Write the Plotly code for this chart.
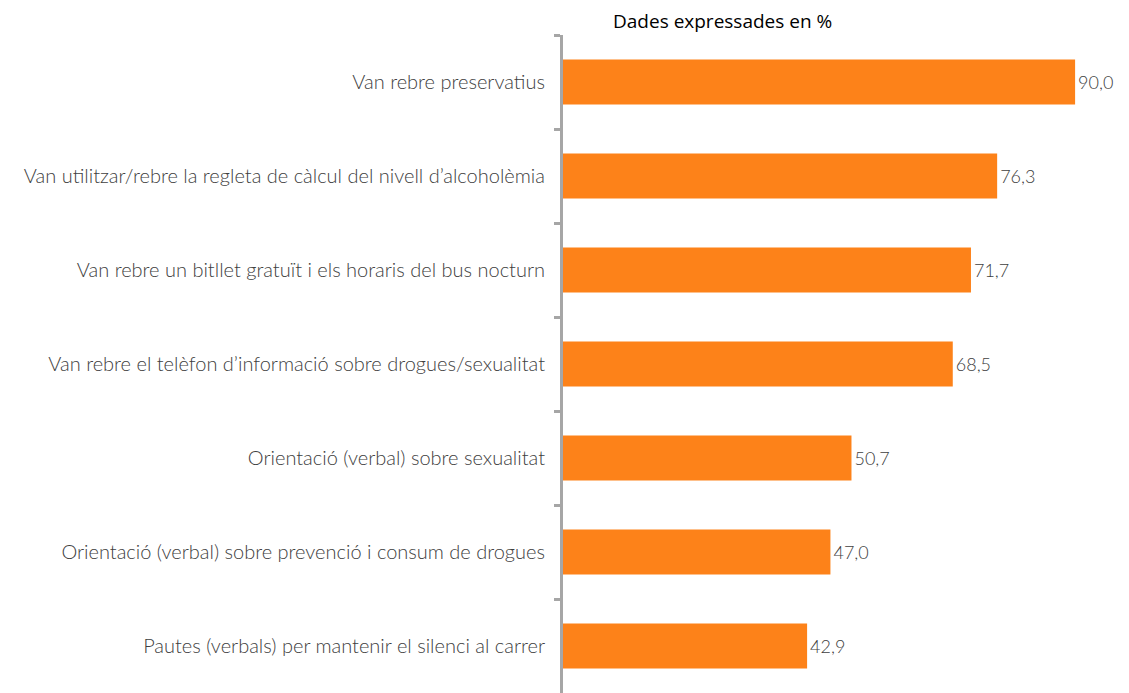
import plotly.graph_objects as go

categories = [
    "Van rebre preservatius",
    "Van utilitzar/rebre la regleta de càlcul del nivell d’alcoholèmia",
    "Van rebre un bitllet gratuït i els horaris del bus nocturn",
    "Van rebre el telèfon d’informació sobre drogues/sexualitat",
    "Orientació (verbal) sobre sexualitat",
    "Orientació (verbal) sobre prevenció i consum de drogues",
    "Pautes (verbals) per mantenir el silenci al carrer",
]
values = [90.0, 76.3, 71.7, 68.5, 50.7, 47.0, 42.9]
value_labels = ["90,0", "76,3", "71,7", "68,5", "50,7", "47,0", "42,9"]
title_text = "Dades expressades en %"

# page body has an 8px margin; figure sized so it fills the window
W, H = 1121, 685
L, T = 555, 27

fig = go.Figure(go.Bar(
    x=values,
    y=categories,
    orientation="h",
    marker=dict(color="#FD8219", line=dict(width=0)),
    width=0.48,
    text=value_labels,
    textposition="outside",
    cliponaxis=False,
    textfont=dict(family="Lato, sans-serif", size=18, color="#404040", weight=300),
    hoverinfo="skip",
))

fig.update_layout(
    width=W, height=H,
    margin=dict(l=L, r=0, t=T, b=0, autoexpand=False),
    plot_bgcolor="white", paper_bgcolor="white",
    showlegend=False,
    annotations=[dict(
        text=title_text, xref="paper", yref="paper",
        x=(714 - L) / (W - L), y=1 + (T - 13) / (H - T),
        xanchor="center", yanchor="middle",
        showarrow=False, font=dict(family="Open Sans, sans-serif", size=19, color="#000000"),
    )],
)

fig.update_xaxes(range=[0, (W - L) / 5.69], visible=False, showgrid=False, zeroline=False)
fig.update_yaxes(
    type="category", automargin=False,
    categoryorder="array", categoryarray=categories,
    autorange=False, range=[6.5, -0.5],
    showline=True, linecolor="#A6A6A6", linewidth=3,
    ticks="outside", tickson="boundaries", ticklen=6, tickwidth=2.5, tickcolor="#A6A6A6",
    showgrid=False, zeroline=False,
    tickfont=dict(family="Lato, sans-serif", size=20, color="#404040", weight=300),
    ticklabelstandoff=11,
)

fig.write_html("out.html")
